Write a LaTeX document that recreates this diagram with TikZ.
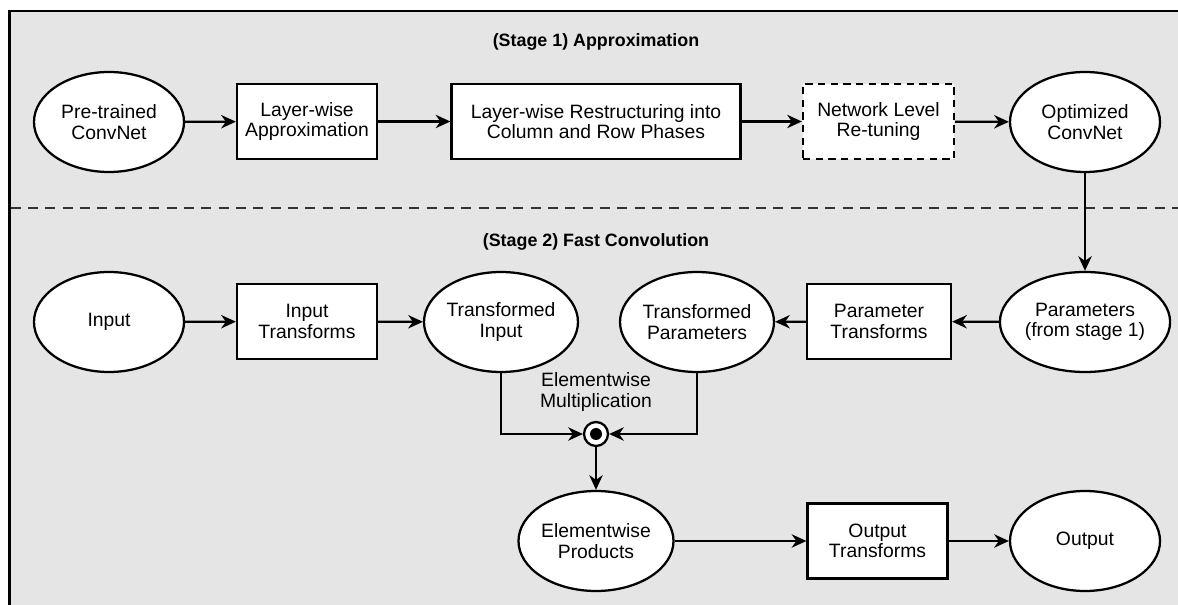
\documentclass[tikz,border=0pt]{standalone}
\usepackage{fontspec}
\setmainfont{Liberation Sans}
\usetikzlibrary{shapes.geometric,arrows.meta}

\tikzset{
  base/.style={draw=black, line width=1.7pt, fill=white, inner sep=0pt, align=center,
    font=\fontsize{14.5}{15.5}\selectfont},
  oval/.style={base, ellipse, minimum width=112.5pt, minimum height=75pt},
  stepbox/.style={base, rectangle, minimum height=56.25pt},
  dashbox/.style={stepbox, dash pattern=on 5.5pt off 4pt},
  flow/.style={line width=1.7pt, -{Stealth[length=11pt,width=10pt,inset=3.5pt]}},
  stagetitle/.style={font=\bfseries\fontsize{13.4}{15}\selectfont},
}

\begin{document}
\begin{tikzpicture}[x=0.75pt, y=-0.75pt]
  \path[use as bounding box] (0,0) rectangle (1178,605);
  % panel background and its frame
  \fill[black!10] (9.5,11) rectangle (1178,605);
  \draw[line width=2pt] (9.5,605) -- (9.5,11) -- (1178,11);
  % stage separator
  \draw[line width=1.5pt, black!80, dash pattern=on 7.5pt off 5.5pt] (10.5,208) -- (1178,208);

  % stage 1
  \node[stagetitle] (t1) at (596,42) {(Stage 1) Approximation};
  \node[oval] (pre) at (109,122) {Pre-trained\\ConvNet};
  \node[stepbox, minimum width=105pt] (lwa) at (307,121.5) {Layer-wise\\Approximation};
  \node[stepbox, minimum width=216.75pt] (lwr) at (596,121.5) {Layer-wise Restructuring into\\Column and Row Phases};
  \node[dashbox, minimum width=113.25pt] (net) at (878.5,121.5) {Network Level\\Re-tuning};
  \node[oval] (opt) at (1085,122) {Optimized\\ConvNet};

  % stage 2
  \node[stagetitle] (t2) at (596,242) {(Stage 2) Fast Convolution};
  \node[oval] (in) at (109,322) {Input};
  \node[stepbox, minimum width=105pt] (itf) at (307,321.5) {Input\\Transforms};
  \node[oval] (tin) at (501,322) {Transformed\\Input};
  \node[oval] (tpar) at (697,322) {Transformed\\Parameters};
  \node[stepbox, minimum width=108pt] (ptf) at (879,321.5) {Parameter\\Transforms};
  \node[oval] (par) at (1085,322) {Parameters\\(from stage 1)};
  \node[font=\fontsize{14.5}{15.5}\selectfont, align=center] (ewm) at (596,392) {Elementwise\\Multiplication};
  \node[circle, draw=black, line width=1.7pt, fill=white, minimum size=18pt, inner sep=0pt] (mul) at (596,434) {};
  \fill[black] (mul.center) circle (4.5pt);
  \node[oval] (prod) at (596,541) {Elementwise\\Products};
  \node[stepbox, minimum width=105pt] (otf) at (877.5,541) {Output\\Transforms};
  \node[oval] (out) at (1085,541) {Output};

  % connectors
  \draw[flow] (pre) -- (lwa);
  \draw[flow] (lwa) -- (lwr);
  \draw[flow] (lwr) -- (net);
  \draw[flow] (net) -- (opt);
  \draw[flow] (opt) -- (par);
  \draw[flow] (in) -- (itf);
  \draw[flow] (itf) -- (tin);
  \draw[flow] (par) -- (ptf);
  \draw[flow] (ptf) -- (tpar);
  \draw[flow] (tin.south) |- (mul.west);
  \draw[flow] (tpar.south) |- (mul.east);
  \draw[flow] (mul) -- (prod);
  \draw[flow] (prod) -- (otf);
  \draw[flow] (otf) -- (out);
\end{tikzpicture}
\end{document}
